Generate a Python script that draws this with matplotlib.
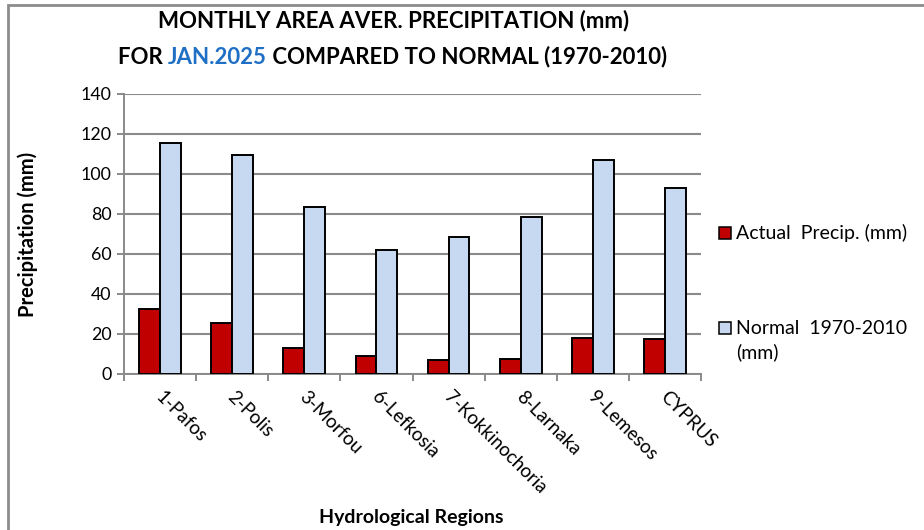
import numpy as np
import matplotlib
matplotlib.use("Agg")
import matplotlib.pyplot as plt
import matplotlib.transforms as mtrans
from matplotlib.patches import Rectangle

plt.rcParams['font.family'] = ['Lato', 'DejaVu Sans']

regions = ['1-Pafos', '2-Polis', '3-Morfou', '6-Lefkosia', '7-Kokkinochoria',
           '8-Larnaka', '9-Lemesos', 'CYPRUS']
actual = [32.5, 25.3, 12.8, 9.0, 7.0, 7.3, 18.0, 17.3]
normal = [115.5, 109.7, 83.5, 62.0, 68.5, 78.7, 106.8, 92.8]
yticks = [0, 20, 40, 60, 80, 100, 120, 140]

red = '#C00000'
blue = '#C6D9F1'
grid_c = '#8a8a8a'

W, H = 924, 530
x0, x1 = 124, 701
fig = plt.figure(figsize=(W / 100, H / 100), dpi=100)
ax = fig.add_axes([x0 / W, 1 - 374 / H, (x1 - x0) / W, (374 - 94) / H])

# chart frame (document crop)
fig.add_artist(Rectangle((8 / W, -0.1), 1.2, 1 - 5 / H + 0.1, transform=fig.transFigure,
                         fill=False, edgecolor='#8c8c8c', lw=2, zorder=0))

x = np.arange(len(regions))
bw = 0.29
ax.bar(x - bw / 2, actual, bw, color=red, edgecolor='black', lw=1.4, zorder=3)
ax.bar(x + bw / 2, normal, bw, color=blue, edgecolor='black', lw=1.4, zorder=3)

ax.set_xlim(-0.5, len(regions) - 0.5)
ax.set_ylim(0, 140)
ax.set_yticks(yticks)
ax.yaxis.grid(True, color=grid_c, lw=1.5, zorder=0)
ax.set_axisbelow(True)
for s in ['top', 'right']:
    ax.spines[s].set_visible(False)
for s in ['left', 'bottom']:
    ax.spines[s].set_color(grid_c)
    ax.spines[s].set_linewidth(1.4)

ax.set_xticks(x)
ax.set_xticklabels(regions, rotation=-45, ha='left', va='top', rotation_mode='anchor',
                   fontsize=13.5)
ax.tick_params(axis='x', length=0, pad=10)
off = mtrans.ScaledTranslation(4 / 100, 0, fig.dpi_scale_trans)
for lab in ax.get_xticklabels():
    lab.set_transform(lab.get_transform() + off)
ax.set_xticks(np.arange(len(regions) + 1) - 0.5, minor=True)
ax.tick_params(axis='x', which='minor', length=5, color=grid_c, width=1.4)
ax.tick_params(axis='y', length=5, color=grid_c, width=1.4, labelsize=12.8, pad=4)

ax.set_ylabel('Precipitation (mm)', fontsize=14.5, fontweight='bold')
ax.yaxis.set_label_coords(-86 / (x1 - x0), 0.5)
fig.text(411 / W, 1 - 517 / H, 'Hydrological Regions', ha='center', va='center',
         fontsize=14, fontweight='bold')

# title
fs_t = 16
fig.text(394 / W, 1 - 21 / H, 'MONTHLY AREA AVER. PRECIPITATION (mm)', ha='center',
         va='center', fontsize=fs_t, fontweight='bold')
t1 = fig.text(118 / W, 1 - 57 / H, 'FOR ', ha='left', va='center', fontsize=fs_t,
              fontweight='bold')
fig.canvas.draw()
r = fig.canvas.get_renderer()
bb = t1.get_window_extent(r)
t2 = fig.text(bb.x1 / W, 1 - 57 / H, 'JAN.2025', ha='left', va='center', fontsize=fs_t,
              fontweight='bold', color='#1F6FC5')
bb = t2.get_window_extent(r)
fig.text(bb.x1 / W, 1 - 57 / H, ' COMPARED TO NORMAL (1970-2010)', ha='left',
         va='center', fontsize=fs_t, fontweight='bold')

# legend
fs_l = 14
for yc, fc, lines in [(233, red, ['Actual  Precip. (mm)']),
                      (328, blue, ['Normal  1970-2010', '(mm)'])]:
    fig.add_artist(Rectangle((719 / W, 1 - (yc + 6) / H), 12 / W, 12 / H,
                             transform=fig.transFigure, facecolor=fc,
                             edgecolor='black', lw=1.1))
    for i, s in enumerate(lines):
        fig.text(736 / W, 1 - (yc + i * 24) / H, s, ha='left', va='center',
                 fontsize=fs_l)

fig.savefig('out.png', dpi=100)
